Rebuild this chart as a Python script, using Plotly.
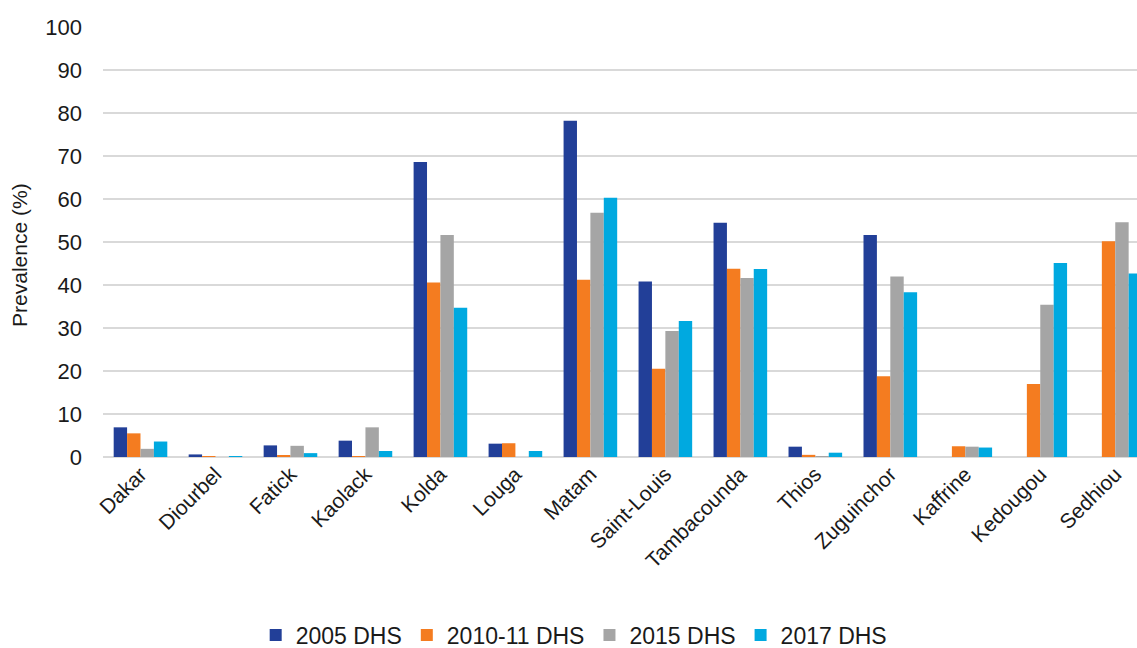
import plotly.graph_objects as go

regions = ["Dakar", "Diourbel", "Fatick", "Kaolack", "Kolda", "Louga", "Matam",
           "Saint-Louis", "Tambacounda", "Thios", "Zuguinchor", "Kaffrine",
           "Kedougou", "Sedhiou"]

dhs_2005 = [6.9, 0.6, 2.7, 3.8, 68.6, 3.1, 78.2, 40.8, 54.5, 2.4, 51.6, 0, 0, 0]
dhs_2010 = [5.5, 0.1, 0.4, 0.1, 40.6, 3.2, 41.2, 20.5, 43.8, 0.5, 18.8, 2.5, 17.0, 50.2]
dhs_2015 = [1.9, 0, 2.6, 6.9, 51.6, 0, 56.8, 29.3, 41.6, 0.1, 42.0, 2.4, 35.4, 54.6]
dhs_2017 = [3.6, 0.2, 0.9, 1.4, 34.7, 1.4, 60.3, 31.6, 43.7, 1.0, 38.3, 2.2, 45.1, 42.7]

series = [
    ("2005 DHS", dhs_2005, "#223F98"),
    ("2010-11 DHS", dhs_2010, "#F47C20"),
    ("2015 DHS", dhs_2015, "#A5A5A5"),
    ("2017 DHS", dhs_2017, "#00A9E0"),
]

font_family = "Liberation Sans, Arial, sans-serif"

fig = go.Figure()
for name, values, color in series:
    fig.add_trace(go.Bar(
        x=list(range(len(regions))), y=values, name=name,
        marker=dict(color=color, line=dict(width=0)),
    ))

fig.update_layout(
    width=1137, height=648,
    margin=dict(l=103, r=0, t=27, b=191, autoexpand=False),
    paper_bgcolor="white", plot_bgcolor="white",
    barmode="group", bargap=0.285, bargroupgap=0,
    font=dict(family=font_family, size=22, color="#1a1a1a"),
    showlegend=True,
    legend=dict(
        orientation="h", xref="container", yref="container",
        x=0.505, xanchor="center", y=0.02, yanchor="middle",
        font=dict(size=23), traceorder="normal", itemwidth=30,
        tracegroupgap=0,
    ),
    xaxis=dict(
        tickmode="array", tickvals=list(range(len(regions))), ticktext=regions,
        tickangle=-45, range=[-0.5, 13.29], showgrid=False, zeroline=False,
        showline=False, ticks="", tickfont=dict(size=21),
    ),
    yaxis=dict(
        range=[0, 100], dtick=10, showgrid=True, gridcolor="#D9D9D9",
        gridwidth=1.5, zeroline=True, zerolinecolor="#D9D9D9", zerolinewidth=1.5,
        showline=False, ticks="", tickfont=dict(size=22), ticklabelstandoff=20,
    ),
    annotations=[dict(
        text="Prevalence (%)", xref="paper", yref="paper",
        x=(20 - 103) / 1034, y=0.47, textangle=-90, showarrow=False,
        xanchor="center", yanchor="middle", font=dict(size=21),
    )],
)

fig.write_html("out.html")
